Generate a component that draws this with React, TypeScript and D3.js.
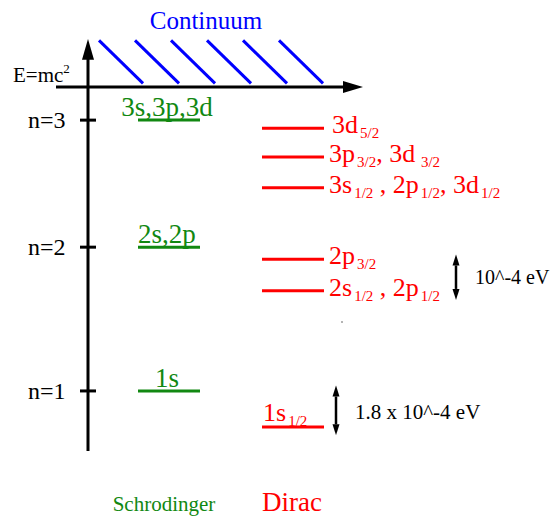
import * as d3 from 'd3';

// schematic energy depth below E=mc^2 (0 = continuum edge, 1 = bottom of axis)
const nLabels = ['n=3', 'n=2', 'n=1'];
const schroLevels = [0.091, 0.44, 0.835];
const schroLabels = ['3s,3p,3d', '2s,2p', '1s'];

const diracLevels = [0.113, 0.192, 0.277, 0.473, 0.56, 0.934];
// each label = list of [main text, subscript]
const diracLabels: [string, string][][] = [
  [['3d', '5/2']],
  [['3p', '3/2'], [', 3d', ' 3/2']],
  [['3s', '1/2'], [' , 2p', '1/2'], [', 3d', '1/2']],
  [['2p', '3/2']],
  [['2s', '1/2'], [' , 2p', '1/2']],
  [['1s', '1/2']],
];

const splittings = [
  { from: 0.46, to: 0.585, label: '10^-4 eV' },
  { from: 0.82, to: 0.957, label: '1.8 x 10^-4 eV' },
];

const columns = ['Schrodinger', 'Dirac'];
const HATCHES = d3.range(6);

const W = 554;
const H = 516;
const SERIF = '"Liberation Serif", "DejaVu Serif", serif';
const GREEN = '#118811';
const RED = '#ff0000';
const BLUE = '#0000ff';

function Txt({ x, y, size, fill, anchor = 'start', children }: any) {
  return (
    <text x={x} y={y} fontFamily={SERIF} fontSize={size} fill={fill} textAnchor={anchor}>
      {children}
    </text>
  );
}

function DoubleArrow({ x, y1, y2 }: { x: number; y1: number; y2: number }) {
  const hw = 3.5, hl = 11;
  return (
    <g fill="#000" stroke="#000">
      <line x1={x} x2={x} y1={y1 + hl} y2={y2 - hl} strokeWidth={2.5} />
      <path d={`M${x},${y1} L${x - hw},${y1 + hl} L${x + hw},${y1 + hl} Z`} stroke="none" />
      <path d={`M${x},${y2} L${x - hw},${y2 - hl} L${x + hw},${y2 - hl} Z`} stroke="none" />
    </g>
  );
}

export default function App() {
  const y = d3.scaleLinear().domain([0, 1]).range([87, 451]);
  const col = d3.scalePoint<string>().domain(columns).range([169, 293]);
  const hatchX = d3.scaleLinear().domain([0, 5]).range([99, 279]);
  const axisX = 88;
  const halfW = 31;

  const sx = col('Schrodinger')!;
  const dx = col('Dirac')!;

  return (
    <svg width={W} height={H} style={{ display: 'block', position: 'absolute', left: 0, top: 0 }}>
      <rect width={W} height={H} fill="#fff" />

      {/* continuum hatching */}
      {HATCHES.map(i => (
        <line key={i} x1={hatchX(i)} y1={y(-0.128)} x2={hatchX(i) + 44} y2={y(-0.01)}
          stroke={BLUE} strokeWidth={3} />
      ))}
      <Txt x={206} y={29} size={25} fill={BLUE} anchor="middle">Continuum</Txt>

      {/* axes */}
      <line x1={axisX} x2={axisX} y1={y(-0.08)} y2={y(1)} stroke="#000" strokeWidth={3} />
      <path d={`M${axisX},${y(-0.132)} L${axisX - 6},${y(-0.075)} L${axisX + 6},${y(-0.075)} Z`} fill="#000" />
      <line x1={56} x2={345} y1={y(0)} y2={y(0)} stroke="#000" strokeWidth={3} />
      <path d={`M363,${y(0)} L343,${y(0) - 6} L343,${y(0) + 6} Z`} fill="#000" />
      <Txt x={13} y={82} size={21} fill="#000">
        E=mc<tspan fontSize={13} dy={-9}>2</tspan>
      </Txt>

      {/* n ticks */}
      {schroLevels.map((v, i) => (
        <g key={i}>
          <line x1={axisX - 8} x2={axisX + 8} y1={y(v)} y2={y(v)} stroke="#000" strokeWidth={3} />
          <Txt x={28} y={y(v) + 8} size={24} fill="#000">{nLabels[i]}</Txt>
        </g>
      ))}

      {/* Schrodinger levels */}
      {schroLevels.map((v, i) => (
        <g key={i}>
          <line x1={sx - halfW} x2={sx + halfW} y1={y(v)} y2={y(v)} stroke={GREEN} strokeWidth={3} />
          <Txt x={sx - 2} y={y(v) - 4} size={27} fill={GREEN} anchor="middle">{schroLabels[i]}</Txt>
        </g>
      ))}

      {/* Dirac levels */}
      {diracLevels.map((v, i) => {
        const last = i === diracLevels.length - 1;
        return (
          <g key={i}>
            <line x1={dx - halfW} x2={dx + halfW} y1={y(v)} y2={y(v)} stroke={RED} strokeWidth={3} />
            <Txt x={last ? dx - 30 : dx + 36 + (i === 0 ? 3 : 0)} y={last ? y(v) - 6 : y(v) + 5}
              size={26} fill={RED}>
              {diracLabels[i].map(([m, s], j) => (
                <tspan key={j}>
                  <tspan dy={j === 0 ? 0 : -5}>{m}</tspan>
                  <tspan fontSize={15} dx={2} dy={5}>{s}</tspan>
                </tspan>
              ))}
            </Txt>
          </g>
        );
      })}

      {/* splitting arrows */}
      <DoubleArrow x={456} y1={y(splittings[0].from)} y2={y(splittings[0].to)} />
      <Txt x={475} y={284} size={20} fill="#000">{splittings[0].label}</Txt>
      <DoubleArrow x={336} y1={y(splittings[1].from)} y2={y(splittings[1].to)} />
      <Txt x={355} y={419} size={21} fill="#000">{splittings[1].label}</Txt>

      <circle cx={342} cy={322} r={0.8} fill="#555" />

      {/* column titles */}
      <Txt x={sx - 5} y={511} size={21} fill={GREEN} anchor="middle">{columns[0]}</Txt>
      <Txt x={dx - 1} y={511} size={27} fill={RED} anchor="middle">{columns[1]}</Txt>
    </svg>
  );
}
